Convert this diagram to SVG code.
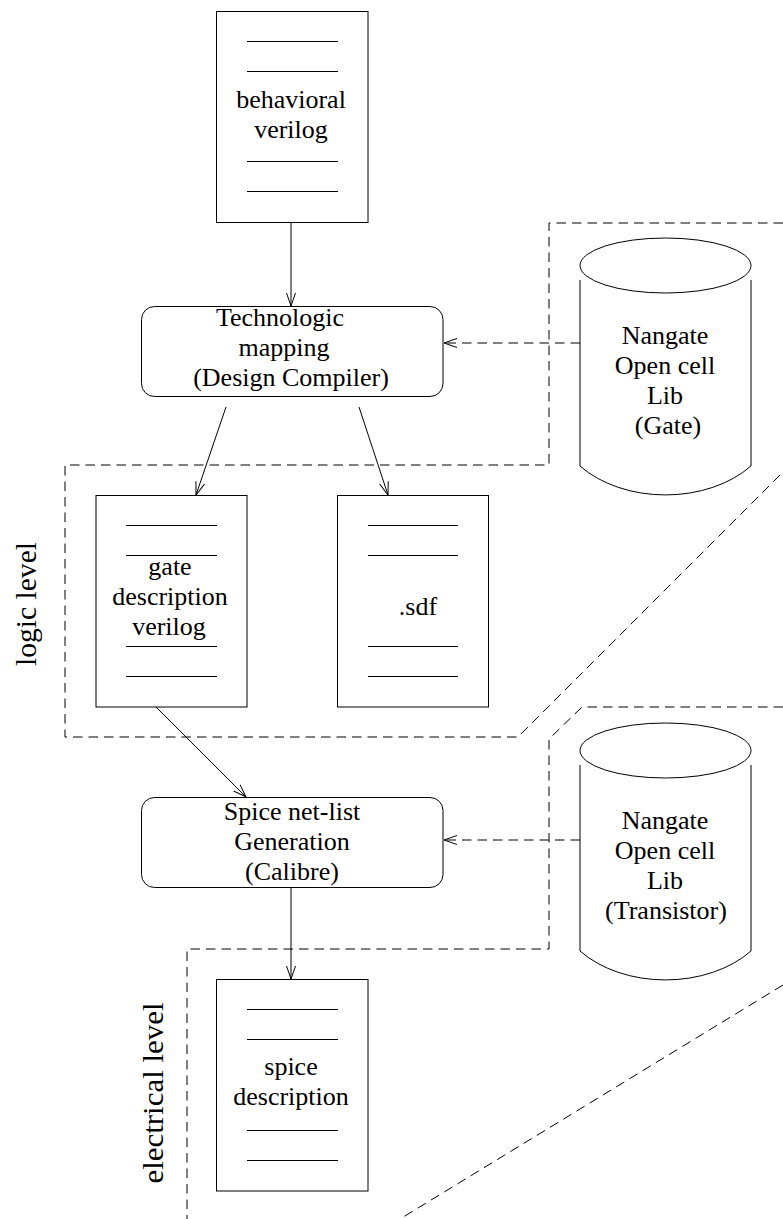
<svg xmlns="http://www.w3.org/2000/svg" width="783" height="1219" viewBox="0 0 783 1219">
  <style>
    .shape { fill: #fff; stroke: #000; stroke-width: 1; }
    .rule { stroke: #000; stroke-width: 1; fill: none; }
    .wire { stroke: #000; stroke-width: 1; fill: none; }
    .dash { stroke: #000; stroke-width: 1; fill: none; stroke-dasharray: 9.5 6; }
    text { font-family: 'Liberation Serif', 'DejaVu Serif', 'Times New Roman', serif; fill: #000; text-anchor: middle; }
    .label { font-size: 26px; }
    .level { font-size: 30px; }
  </style>
  <defs>
    <marker id="open-arrow" markerUnits="userSpaceOnUse" markerWidth="16" markerHeight="12" refX="13" refY="5" orient="auto">
      <path d="M0,0.5 L13,5 L0,9.5" fill="none" stroke="#000" stroke-width="1"/>
    </marker>
  </defs>

  <rect width="783" height="1219" fill="#fff"/>

  <!-- level boundaries -->
  <g id="boundaries">
    <polyline class="dash" points="783,223 549,223 549,465 65,465 65,737 518,737 783,472"/>
    <polyline class="dash" points="783,707 582,707 549,739 549,949 187,949 187,1219"/>
    <line class="dash" x1="783" y1="985" x2="400" y2="1219"/>
  </g>

  <!-- level labels -->
  <g id="label-logic">
    <text class="level" font-family="Liberation Serif, DejaVu Serif, serif" transform="translate(36,604) rotate(-90)" textLength="124" lengthAdjust="spacingAndGlyphs">logic level</text>
  </g>
  <g id="label-electrical">
    <text class="level" font-family="Liberation Serif, DejaVu Serif, serif" transform="translate(163,1093) rotate(-90)" textLength="181" lengthAdjust="spacingAndGlyphs">electrical level</text>
  </g>

  <!-- connectors -->
  <g id="connectors">
    <line class="wire" x1="291" y1="222" x2="291" y2="306" marker-end="url(#open-arrow)"/>
    <line class="wire" x1="226" y1="407" x2="196" y2="495" marker-end="url(#open-arrow)"/>
    <line class="wire" x1="359" y1="407" x2="388" y2="495" marker-end="url(#open-arrow)"/>
    <line class="dash" x1="580" y1="343" x2="444" y2="343" marker-end="url(#open-arrow)"/>
    <line class="wire" x1="156" y1="707" x2="246" y2="797" marker-end="url(#open-arrow)"/>
    <line class="dash" x1="580" y1="840" x2="444" y2="840" marker-end="url(#open-arrow)"/>
    <line class="wire" x1="291" y1="887" x2="291" y2="979" marker-end="url(#open-arrow)"/>
  </g>

  <!-- behavioral verilog document -->
  <g id="doc-behavioral">
    <rect class="shape" x="216.5" y="11.5" width="151.5" height="211"/>
    <path class="rule" d="M247,41.5 H338 M247,71.5 H338 M247,161.5 H338 M247,191.5 H338"/>
    <text class="label" x="291" y="108">behavioral</text>
    <text class="label" x="291" y="138">verilog</text>
  </g>

  <!-- technology mapping step -->
  <g id="step-mapping">
    <rect class="shape" x="141.5" y="306.5" width="301.5" height="90" rx="13" ry="13"/>
    <text class="label" x="280" y="326">Technologic</text>
    <text class="label" x="284" y="356">mapping</text>
    <text class="label" x="291" y="386">(Design Compiler)</text>
  </g>

  <!-- gate library -->
  <g id="lib-gate">
    <path class="shape" d="M580,280 V466 A110,78 0 0 0 751,466 V280"/>
    <ellipse class="shape" cx="665.5" cy="265.5" rx="85.5" ry="27.5"/>
    <text class="label" x="665" y="344">Nangate</text>
    <text class="label" x="665" y="374">Open cell</text>
    <text class="label" x="665" y="404">Lib</text>
    <text class="label" x="668" y="434">(Gate)</text>
  </g>

  <!-- gate description document -->
  <g id="doc-gate">
    <rect class="shape" x="96" y="495.5" width="151" height="211.5"/>
    <path class="rule" d="M126,525.5 H217 M126,555.5 H217 M126,646.5 H217 M126,676.5 H217"/>
    <text class="label" x="170" y="575">gate</text>
    <text class="label" x="170" y="605">description</text>
    <text class="label" x="169" y="635">verilog</text>
  </g>

  <!-- timing document -->
  <g id="doc-sdf">
    <rect class="shape" x="337.5" y="495.5" width="151" height="211.5"/>
    <path class="rule" d="M368,525.5 H458 M368,555.5 H458 M368,646.5 H458 M368,676.5 H458"/>
    <text class="label" x="418" y="615">.sdf</text>
  </g>

  <!-- netlist generation step -->
  <g id="step-netlist">
    <rect class="shape" x="141.5" y="797.5" width="301.5" height="90" rx="13" ry="13"/>
    <text class="label" x="292" y="820">Spice net-list</text>
    <text class="label" x="292" y="850">Generation</text>
    <text class="label" x="292" y="880">(Calibre)</text>
  </g>

  <!-- transistor library -->
  <g id="lib-transistor">
    <path class="shape" d="M580,765 V951 A110,78 0 0 0 751,951 V765"/>
    <ellipse class="shape" cx="665.5" cy="750.5" rx="85.5" ry="27.5"/>
    <text class="label" x="665" y="829">Nangate</text>
    <text class="label" x="665" y="859">Open cell</text>
    <text class="label" x="665" y="889">Lib</text>
    <text class="label" x="666" y="919">(Transistor)</text>
  </g>

  <!-- spice description document -->
  <g id="doc-spice">
    <rect class="shape" x="216.5" y="979.5" width="151.5" height="211.5"/>
    <path class="rule" d="M247,1009.5 H338 M247,1039.5 H338 M247,1130.5 H338 M247,1160.5 H338"/>
    <text class="label" x="291" y="1075">spice</text>
    <text class="label" x="291" y="1105">description</text>
  </g>
</svg>
